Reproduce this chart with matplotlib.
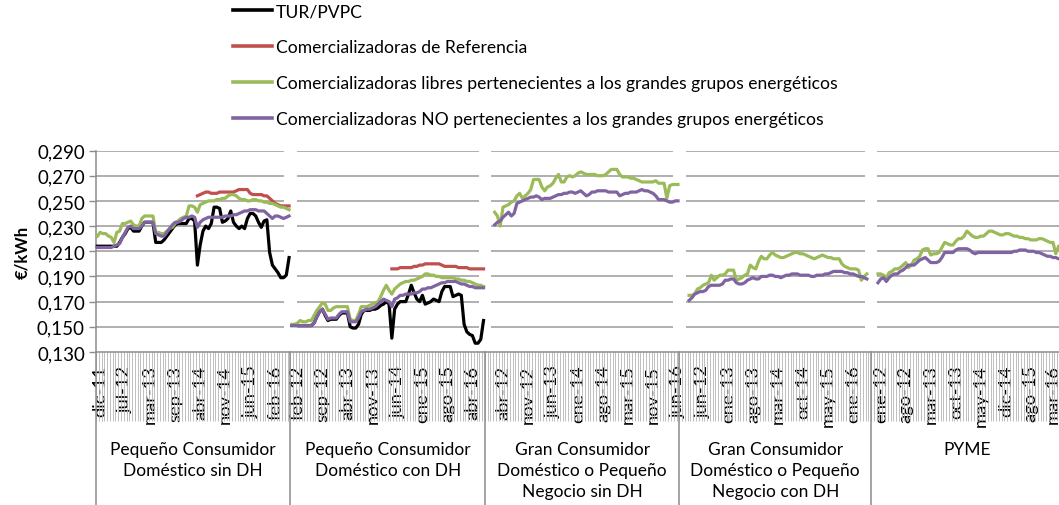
import numpy as np
import matplotlib
matplotlib.use("Agg")
import matplotlib.pyplot as plt
from matplotlib.lines import Line2D
from matplotlib.transforms import blended_transform_factory

plt.rcParams['font.family'] = ['Lato', 'DejaVu Sans']

# ---- data ----
group_names = ["Pequeño Consumidor\nDoméstico sin DH",
               "Pequeño Consumidor\nDoméstico con DH",
               "Gran Consumidor\nDoméstico o Pequeño\nNegocio sin DH",
               "Gran Consumidor\nDoméstico o Pequeño\nNegocio con DH",
               "PYME"]
group_sizes = [70, 70, 70, 69, 69]

tick_text = [["dic-11", "jul-12", "mar-13", "sep-13", "abr-14", "nov-14", "jun-15", "feb-16"],
             ["feb-12", "sep-12", "abr-13", "nov-13", "jun-14", "ene-15", "ago-15", "abr-16"],
             ["abr-12", "nov-12", "jun-13", "ene-14", "ago-14", "mar-15", "nov-15", "jun-16"],
             ["jun-12", "ene-13", "ago-13", "mar-14", "oct-14", "may-15", "ene-16"],
             ["ene-12", "ago-12", "mar-13", "oct-13", "may-14", "dic-14", "ago-15", "mar-16"]]
tick_idx = [[1, 10, 19, 28, 37, 46, 55, 64],
            [2, 11, 20, 29, 38, 47, 56, 65],
            [6, 15, 24, 33, 42, 51, 60, 69],
            [8, 17, 26, 35, 44, 53, 62],
            [3, 12, 21, 30, 39, 48, 57, 65]]

series_names = ["TUR/PVPC",
                "Comercializadoras de Referencia",
                "Comercializadoras libres pertenecientes a los grandes grupos energéticos",
                "Comercializadoras NO pertenecientes a los grandes grupos energéticos"]

tur_g1 = [.214, .214, .214, .214, .214, .214, .214, .214, .217, .221,
          .224, .228, .229, .226, .226, .226, .230, .233, .233, .233,
          .233, .217, .217, .217, .219, .222, .225, .228, .231, .232,
          .232, .232, .232, .236, .236, .234, .199, .215, .226, .230,
          .228, .232, .245, .245, .244, .233, .234, .236, .242, .233,
          .230, .228, .230, .228, .236, .240, .240, .238, .233, .229,
          .234, .235, .209, .199, .196, .193, .189, .189, .191, .205]
ref_g1 = [None] * 36 + [.254, .255, .256, .257,
                        .257, .256, .256, .256, .257, .257, .257, .257, .257, .257,
                        .258, .259, .259, .259, .259, .256, .255, .255, .255, .255,
                        .254, .254, .252, .250, .248, .247, .246, .246, .246, .246]
lib_g1 = [.222, .225, .224, .224, .222, .221, .217, .225, .226, .232,
          .232, .233, .234, .231, .230, .230, .236, .238, .238, .238,
          .238, .225, .225, .224, .224, .226, .228, .229, .232, .234,
          .236, .237, .238, .246, .246, .245, .241, .247, .248, .249,
          .250, .250, .250, .251, .251, .252, .252, .254, .255, .255,
          .254, .252, .251, .251, .250, .250, .251, .251, .250, .250,
          .249, .249, .248, .248, .247, .246, .245, .245, .244, .243]
no_g1 = [.213, .213, .213, .213, .213, .213, .214, .215, .216, .221,
         .225, .229, .230, .228, .228, .228, .230, .233, .233, .233,
         .233, .224, .223, .222, .222, .225, .228, .231, .233, .233,
         .234, .236, .237, .237, .238, .237, .229, .233, .235, .236,
         .237, .237, .237, .237, .237, .237, .238, .238, .238, .239,
         .239, .240, .241, .242, .242, .243, .243, .243, .242, .242,
         .242, .240, .238, .236, .238, .238, .237, .236, .237, .238]

tur_g2 = [.151, .151, .151, .151, .151, .151, .151, .151, .153, .158,
          .162, .164, .159, .155, .156, .156, .156, .159, .161, .161,
          .161, .150, .149, .149, .152, .160, .163, .163, .163, .164,
          .164, .165, .167, .168, .170, .168, .141, .164, .168, .170,
          .170, .170, .176, .183, .177, .172, .170, .175, .168, .169,
          .170, .172, .171, .170, .178, .182, .182, .182, .174, .175,
          .176, .175, .152, .146, .144, .143, .137, .137, .140, .155]
ref_g2 = [None] * 36 + [.196, .196, .196, .197,
                        .197, .197, .197, .197, .198, .198, .199, .199, .200, .200,
                        .200, .200, .200, .200, .199, .198, .198, .198, .198, .198,
                        .197, .197, .197, .197, .196, .196, .196, .196, .196, .196]
lib_g2 = [.152, .152, .153, .155, .154, .154, .155, .155, .159, .163,
          .166, .169, .168, .163, .163, .165, .166, .166, .166, .166,
          .166, .156, .155, .155, .160, .166, .166, .166, .167, .168,
          .169, .170, .174, .179, .183, .179, .176, .180, .182, .184,
          .185, .186, .186, .187, .187, .188, .189, .190, .192, .192,
          .191, .191, .190, .190, .189, .189, .189, .189, .189, .188,
          .188, .187, .187, .186, .186, .185, .184, .183, .183, .182]
no_g2 = [.151, .151, .151, .151, .151, .151, .151, .151, .153, .158,
         .162, .164, .160, .156, .157, .157, .157, .160, .162, .162,
         .162, .154, .154, .154, .157, .162, .163, .164, .164, .165,
         .166, .168, .170, .172, .171, .170, .166, .172, .173, .175,
         .175, .176, .176, .176, .177, .177, .178, .180, .180, .181,
         .181, .182, .183, .184, .185, .185, .186, .186, .186, .186,
         .185, .184, .184, .183, .182, .182, .181, .181, .181, .181]

lib_g3 = [None] * 3 + [.241, .238, .230, .245, .246, .247, .249,
                       .250, .254, .256, .252, .254, .256, .259, .267, .267, .267,
                       .261, .258, .261, .262, .264, .268, .271, .265, .265, .269,
                       .270, .269, .270, .272, .273, .272, .271, .271, .271, .271,
                       .270, .270, .270, .271, .273, .275, .275, .275, .271, .269,
                       .269, .269, .268, .268, .267, .266, .265, .265, .265, .265,
                       .265, .266, .264, .264, .264, .252, .262, .263, .263, .263]
no_g3 = [None] * 3 + [.231, .233, .234, .237, .239, .241, .238,
                      .240, .248, .249, .250, .251, .252, .253, .253, .254, .253,
                      .251, .252, .252, .252, .253, .254, .255, .255, .256, .256,
                      .257, .257, .256, .257, .258, .256, .254, .255, .257, .257,
                      .258, .258, .258, .258, .257, .257, .257, .257, .254, .255,
                      .256, .256, .257, .257, .257, .258, .259, .258, .258, .257,
                      .256, .254, .251, .251, .251, .250, .249, .249, .250, .250]

lib_g4 = [None] * 3 + [.175, .175, .176, .180, .181, .183, .184,
                       .185, .191, .187, .189, .191, .191, .192, .195, .195, .195,
                       .187, .188, .189, .191, .192, .199, .197, .196, .202, .206,
                       .204, .204, .207, .209, .207, .206, .205, .205, .206, .207,
                       .208, .209, .209, .208, .208, .207, .206, .205, .204, .205,
                       .206, .207, .206, .205, .205, .204, .204, .204, .200, .198,
                       .197, .196, .196, .196, .195, .187, .190, .192] + [None]
no_g4 = [None] * 3 + [.171, .173, .176, .177, .178, .178, .179,
                      .182, .183, .183, .183, .183, .184, .187, .187, .188, .188,
                      .185, .184, .184, .185, .187, .188, .189, .188, .188, .190,
                      .190, .190, .191, .191, .190, .190, .189, .190, .191, .191,
                      .192, .192, .192, .191, .191, .191, .191, .190, .190, .191,
                      .191, .191, .192, .192, .193, .194, .194, .194, .194, .193,
                      .193, .192, .192, .191, .190, .190, .189, .188] + [None]

lib_g5 = [None] * 2 + [.192, .192, .191, .189, .193, .194, .196, .196,
                       .197, .199, .201, .197, .199, .203, .204, .206, .211, .212,
                       .212, .207, .208, .208, .209, .213, .217, .216, .215, .215,
                       .218, .220, .220, .222, .226, .224, .222, .221, .221, .222,
                       .222, .224, .226, .226, .225, .224, .223, .223, .224, .224,
                       .223, .222, .222, .221, .221, .220, .220, .219, .219, .219,
                       .220, .220, .219, .218, .217, .217, .208, .214, .215]
no_g5 = [None] * 2 + [.185, .188, .189, .186, .189, .191, .192, .192,
                      .194, .195, .197, .199, .199, .199, .201, .203, .204, .205,
                      .203, .201, .201, .201, .202, .205, .209, .209, .209, .209,
                      .211, .212, .212, .212, .212, .211, .209, .208, .209, .209,
                      .209, .209, .209, .209, .209, .209, .209, .209, .209, .209,
                      .209, .210, .210, .211, .211, .211, .210, .210, .210, .209,
                      .209, .208, .207, .206, .206, .205, .205, .204, .204]

series = [[tur_g1, tur_g2, None, None, None],
          [ref_g1, ref_g2, None, None, None],
          [lib_g1, lib_g2, lib_g3, lib_g4, lib_g5],
          [no_g1, no_g2, no_g3, no_g4, no_g5]]
colors = ["#000000", "#C0504D", "#9BBB59", "#8064A2"]

# ---- layout ----
W, H = 1059, 506
fig = plt.figure(figsize=(W / 100, H / 100), dpi=100)
cat_w = 2.778
ncat = sum(group_sizes)
ax_left, ax_bottom, ax_top = 96, 353, 151.5
ax = fig.add_axes([ax_left / W, (H - ax_bottom) / H,
                   ncat * cat_w / W, (ax_bottom - ax_top) / H])
ax.set_xlim(-0.5, ncat - 0.5)
ax.set_ylim(0.13, 0.29)

starts = np.cumsum([0] + group_sizes[:-1])
grid_c = "#9A9A9A"
axis_c = "#8C8C8C"

# gridlines, broken between groups
gap = 2.3
for i, (s, n) in enumerate(zip(starts, group_sizes)):
    x0 = s - 0.5 + (gap if i > 0 else 0)
    x1 = s + n - 0.5 - (gap if i < len(group_sizes) - 1 else 0)
    ax.hlines(np.arange(0.15, 0.2901, 0.02), x0, x1, colors=grid_c, lw=1.1, zorder=1)

# lines
for vals_by_group, col in zip(series, colors):
    for s, vals in zip(starts, vals_by_group):
        if vals is None:
            continue
        y = np.array([np.nan if v is None else v for v in vals], dtype=float)
        ax.plot(s + np.arange(len(y)), y, color=col, lw=2.3,
                solid_joinstyle="round", zorder=3, clip_on=False)

# axes styling
for side in ("top", "right"):
    ax.spines[side].set_visible(False)
for side in ("left", "bottom"):
    ax.spines[side].set_color(axis_c)
    ax.spines[side].set_linewidth(1.1)

yt = np.arange(0.13, 0.2901, 0.02)
ax.set_yticks(yt)
ax.set_yticklabels([f"{v:.3f}".replace(".", ",") for v in yt], fontsize=13.5)
ax.tick_params(axis="y", length=5, width=1, color=axis_c, pad=3)
ax.set_ylabel("€/kWh", fontsize=12, fontweight="bold", labelpad=5)

pos, labs = [], []
for s, idx, txt in zip(starts, tick_idx, tick_text):
    pos += [s + k for k in idx]
    labs += txt
ax.set_xticks(pos)
ax.set_xticklabels(labs, rotation=90, fontsize=13.2)
ax.tick_params(axis="x", which="major", length=0, pad=9)
ax.set_xticks(np.arange(-0.5, ncat), minor=True)
ax.tick_params(axis="x", which="minor", length=50, width=0.6, color="#B4B4B4")

# group separators and group labels
tr = blended_transform_factory(ax.transData, ax.transAxes)
edges = list(starts - 0.5) + [ncat - 0.5]
for e in edges[:-1]:
    ax.plot([e, e], [0, -1.0], transform=tr, color=axis_c, lw=1.1, clip_on=False)
trf = blended_transform_factory(ax.transData, fig.transFigure)
for i, name in enumerate(group_names):
    cx = (edges[i] + edges[i + 1]) / 2
    fig.text(cx, 1 - 442 / H, name, transform=trf, ha="center", va="top",
             fontsize=12.5, linespacing=1.38)

# legend
handles = [Line2D([], [], color=c, lw=2.6) for c in colors]
fig.legend(handles, series_names, loc="upper left",
           bbox_to_anchor=(233 / W, 1 - 4 / H), frameon=False, fontsize=12.65,
           handlelength=2.2, handletextpad=0.25, labelspacing=1.14,
           borderpad=0, borderaxespad=0)

fig.savefig("out.png", dpi=100)
